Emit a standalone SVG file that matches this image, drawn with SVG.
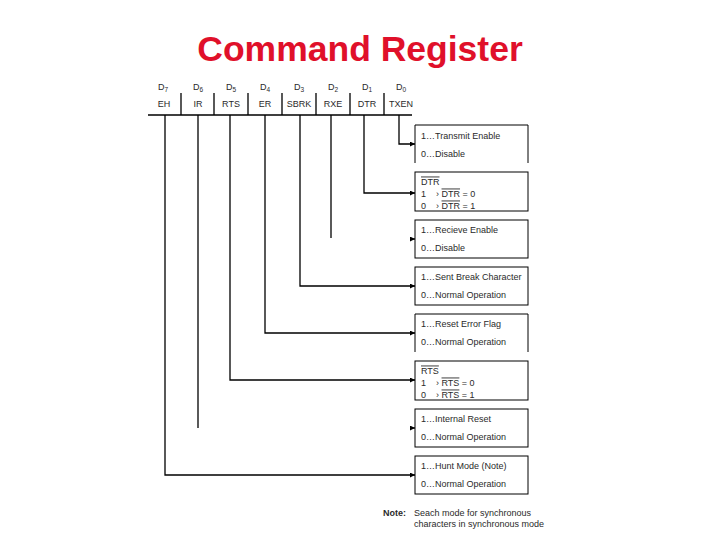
<svg xmlns="http://www.w3.org/2000/svg" width="720" height="540" viewBox="0 0 720 540">
<defs>
<style>
.t{font-family:"Liberation Sans",Arial,sans-serif;fill:#2a2a2a;}
.bx{font-size:9px;}
.hd{font-size:9px;text-anchor:middle;}
.sub{font-size:6.5px;}
.ln{stroke:#000;stroke-width:1.3;fill:none;}
.box{stroke:#000;stroke-width:1;fill:#fff;}
.ov{text-decoration:overline;}
</style>
<marker id="ah" viewBox="0 0 6 6" refX="6" refY="3" markerWidth="5" markerHeight="5" orient="auto" markerUnits="userSpaceOnUse">
<path d="M0 0 L6 3 L0 6 Z" fill="#000"/>
</marker>
</defs>
<rect width="720" height="540" fill="#fff"/>
<text x="360" y="61" font-family="'Liberation Sans',Arial,sans-serif" font-size="35.5" font-weight="bold" fill="#e0102a" text-anchor="middle">Command Register</text>

<g id="register">
<g class="t hd">
<text x="163" y="90">D<tspan class="sub" dy="2">7</tspan></text>
<text x="198" y="90">D<tspan class="sub" dy="2">6</tspan></text>
<text x="231" y="90">D<tspan class="sub" dy="2">5</tspan></text>
<text x="265" y="90">D<tspan class="sub" dy="2">4</tspan></text>
<text x="299" y="90">D<tspan class="sub" dy="2">3</tspan></text>
<text x="333" y="90">D<tspan class="sub" dy="2">2</tspan></text>
<text x="367" y="90">D<tspan class="sub" dy="2">1</tspan></text>
<text x="401" y="90">D<tspan class="sub" dy="2">0</tspan></text>
<text x="164" y="107">EH</text>
<text x="198" y="107">IR</text>
<text x="231" y="107">RTS</text>
<text x="265" y="107">ER</text>
<text x="299" y="107">SBRK</text>
<text x="333" y="107">RXE</text>
<text x="367" y="107">DTR</text>
<text x="401" y="107">TXEN</text>
</g>
<path class="ln" d="M148 115 H412 M181 93 V115 M214 93 V115 M248 93 V115 M282 93 V115 M316 93 V115 M350 93 V115 M384 93 V115" stroke-width="1"/>
</g>

<g id="connectors" class="ln">
<path d="M399 115 V144 H415" marker-end="url(#ah)"/>
<path d="M364 115 V193 H415" marker-end="url(#ah)"/>
<path d="M331 115 V238"/>
<path d="M410 239 H415" marker-end="url(#ah)"/>
<path d="M300 115 V286 H415" marker-end="url(#ah)"/>
<path d="M265 115 V333 H415" marker-end="url(#ah)"/>
<path d="M230 115 V380 H415" marker-end="url(#ah)"/>
<path d="M198 115 V428"/>
<path d="M410 428 H415" marker-end="url(#ah)"/>
<path d="M165 115 V475 H415" marker-end="url(#ah)"/>
</g>

<g id="box-d0">
<path class="box" d="M415 163 V125 H528 V163"/>
<text class="t bx" x="421" y="138.5">1…Transmit Enable</text>
<text class="t bx" x="421" y="156.5">0…Disable</text>
</g>
<g id="box-d1">
<rect class="box" x="415" y="172" width="113" height="39"/>
<text class="t bx" x="421" y="184.5"><tspan class="ov">DTR</tspan></text>
<text class="t bx" x="421" y="196.5">1<tspan x="436">›</tspan> <tspan class="ov">DTR</tspan> = 0</text>
<text class="t bx" x="421" y="208.5">0<tspan x="436">›</tspan> <tspan class="ov">DTR</tspan> = 1</text>
</g>
<g id="box-d2">
<rect class="box" x="415" y="220" width="113" height="38"/>
<text class="t bx" x="421" y="233">1…Recieve Enable</text>
<text class="t bx" x="421" y="251">0…Disable</text>
</g>
<g id="box-d3">
<rect class="box" x="415" y="267" width="113" height="38"/>
<text class="t bx" x="421" y="280">1…Sent Break Character</text>
<text class="t bx" x="421" y="298">0…Normal Operation</text>
</g>
<g id="box-d4">
<path class="box" d="M415 352 V314 H528 V352"/>
<text class="t bx" x="421" y="327">1…Reset Error Flag</text>
<text class="t bx" x="421" y="345">0…Normal Operation</text>
</g>
<g id="box-d5">
<rect class="box" x="415" y="361" width="113" height="39"/>
<text class="t bx" x="421" y="373.5"><tspan class="ov">RTS</tspan></text>
<text class="t bx" x="421" y="385.5">1<tspan x="436">›</tspan> <tspan class="ov">RTS</tspan> = 0</text>
<text class="t bx" x="421" y="397.5">0<tspan x="436">›</tspan> <tspan class="ov">RTS</tspan> = 1</text>
</g>
<g id="box-d6">
<rect class="box" x="415" y="409" width="113" height="38"/>
<text class="t bx" x="421" y="422">1…Internal Reset</text>
<text class="t bx" x="421" y="440">0…Normal Operation</text>
</g>
<g id="box-d7">
<rect class="box" x="415" y="456" width="113" height="38"/>
<text class="t bx" x="421" y="469">1…Hunt Mode (Note)</text>
<text class="t bx" x="421" y="487">0…Normal Operation</text>
</g>

<g id="note">
<text class="t bx" x="383" y="515.5" font-weight="bold">Note:</text>
<text class="t bx" x="414" y="515.5">Seach mode for synchronous</text>
<text class="t bx" x="414" y="526.5">characters in synchronous mode</text>
</g>
</svg>
